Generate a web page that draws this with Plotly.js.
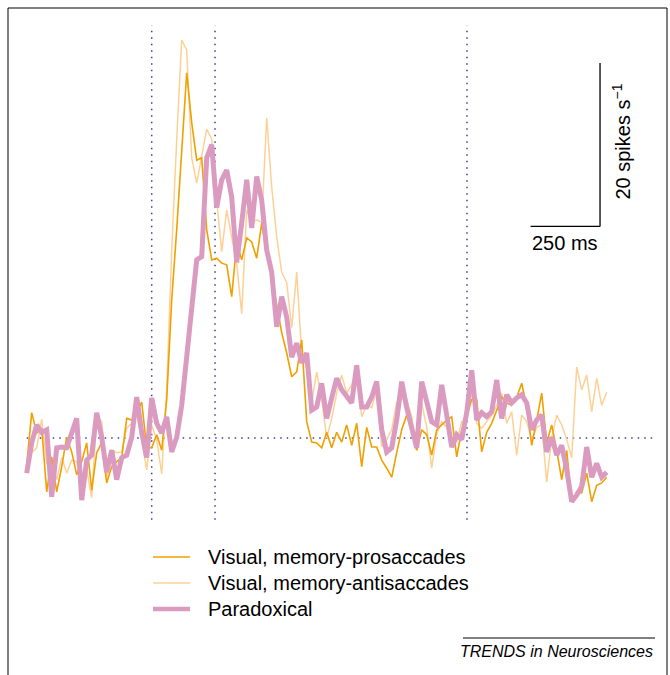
<!DOCTYPE html>
<html>
<head>
<meta charset="utf-8">
<script src="https://cdn.plot.ly/plotly-3.0.1.min.js"></script>
<style>html,body{margin:0;padding:0;background:#fff;}#chart{width:670px;height:675px;}</style>
</head>
<body>
<div id="chart"></div>
<script>
// Firing rate (spikes/s) per 18-ms bin, starting 450 ms before cue onset
const binStartMs = -450;
const binMs = 18;

const prosaccade = [6.7,13.1,10.6,11.2,3.4,7.7,3.4,6.5,10.1,8.3,
  5.5,7.1,9.4,3.6,8.2,9.4,4.5,6.5,7.1,7.6,
  12.4,12.2,13.1,14.4,8.8,8.8,10.4,8.5,14.7,26.9,
  35.5,45.3,54.7,48.6,44.0,44.3,35.5,31.8,32.0,31.4,
  31.2,27.3,33.9,31.8,34.5,34.0,32.0,36.3,32.6,29.7,
  26.5,22.9,20.4,17.5,18.1,22.0,12.0,9.5,9.4,8.8,
  10.7,8.8,10.7,9.5,11.6,9.1,11.8,6.5,11.3,8.9,
  8.9,7.3,6.3,5.2,8.2,11.0,12.8,11.0,8.5,11.0,
  10.4,7.9,11.0,11.6,12.2,12.6,7.7,11.0,12.6,14.7,
  14.7,8.3,10.7,11.8,13.4,15.0,14.3,14.0,15.0,16.7,
  13.8,9.1,12.2,15.5,9.4,11.6,8.5,4.9,8.5,2.2,
  3.4,3.3,5.7,2.2,4.2,4.5,5.2];

const antisaccade = [6.7,8.2,8.8,12.3,6.9,7.1,4.9,7.6,5.7,7.3,
  7.1,3.9,6.1,2.7,12.6,12.0,5.1,8.5,8.2,8.3,
  11.2,11.8,12.8,9.8,6.1,11.6,9.8,5.6,15.9,33.0,
  46.5,58.7,57.5,44.3,41.2,44.6,47.8,46.6,39.1,32.8,
  37.9,34.6,31.4,25.2,37.9,36.4,36.7,36.4,49.2,40.7,
  34.6,30.3,29.0,23.5,30.3,20.2,18.6,14.4,18.1,14.7,
  10.0,12.4,15.5,17.7,15.5,16.5,18.1,12.6,14.0,13.7,
  15.9,8.9,9.8,11.0,14.4,14.7,14.7,12.6,8.5,14.3,
  11.3,6.3,10.6,12.0,11.3,10.1,9.5,12.0,12.2,15.6,
  11.8,11.2,12.0,12.8,14.0,15.5,11.8,13.2,7.9,12.8,
  12.0,9.8,11.3,11.6,4.6,10.0,12.8,11.6,9.8,7.6,
  18.7,15.9,17.7,13.2,17.3,14.0,15.6];

const paradoxical = [5.7,9.4,11.6,10.7,11.0,2.8,8.8,8.9,8.8,10.6,
  12.4,2.4,7.3,7.9,13.1,10.1,5.8,8.5,4.9,7.6,
  7.9,10.1,15.0,10.7,7.6,14.9,11.8,10.6,12.6,8.3,
  10.1,14.0,19.5,25.7,31.8,32.2,44.3,45.9,38.2,41.6,
  42.8,39.5,31.5,36.3,41.6,35.7,42.0,39.1,33.0,30.3,
  23.6,27.3,24.8,19.9,21.6,19.2,20.4,13.4,13.8,16.7,
  12.4,14.9,17.3,15.9,15.0,14.3,18.9,13.8,13.8,15.0,
  16.9,11.0,8.3,8.8,12.2,16.9,13.7,11.0,8.8,16.9,
  14.3,12.0,11.6,16.5,12.8,8.9,10.4,9.8,13.1,18.3,
  12.2,13.1,12.6,13.2,17.1,12.4,15.3,14.3,14.9,15.3,
  14.3,11.0,12.2,12.8,8.3,10.1,7.9,9.1,6.1,2.2,
  3.0,4.1,8.9,5.2,6.9,5.2,5.8];

const timeMs = prosaccade.map((_, i) => binStartMs + i * binMs);

const seriesNames = ["Visual, memory-prosaccades", "Visual, memory-antisaccades", "Paradoxical"];
const seriesColors = ["#F0A000", "#FDD196", "#DB9BC0"];
const seriesWidths = [1.6, 1.5, 5];
const eventTimesMs = [0, 228, 1135];   // dotted vertical markers
const baselineRate = 10;               // dotted horizontal line
const scaleBarMs = 250;
const scaleBarRate = 20;

const FONT = "Liberation Sans, Arial, Helvetica, sans-serif";
const navy = "#3d3d9c";

const traces = [
  {x: timeMs, y: antisaccade, name: seriesNames[1], type: "scatter", mode: "lines",
   line: {color: seriesColors[1], width: seriesWidths[1]}, showlegend: false},
  {x: timeMs, y: prosaccade, name: seriesNames[0], type: "scatter", mode: "lines",
   line: {color: seriesColors[0], width: seriesWidths[0]}, showlegend: false},
  {x: timeMs, y: paradoxical, name: seriesNames[2], type: "scatter", mode: "lines",
   line: {color: seriesColors[2], width: seriesWidths[2]}, showlegend: false}
];

const shapes = [];
eventTimesMs.forEach(t => shapes.push({type: "line", xref: "x", yref: "y",
  x0: t, x1: t, y0: 0, y1: 60.5, line: {color: navy, width: 1.5, dash: "1.5px,5px"}, layer: "below"}));
shapes.push({type: "line", xref: "x", yref: "y", x0: timeMs[0], x1: 1812,
  y0: baselineRate, y1: baselineRate, line: {color: navy, width: 1.5, dash: "1.5px,5px"}, layer: "below"});

// scale bar
const sbX = 1614, sbY = 35.9;
shapes.push({type: "line", xref: "x", yref: "y", x0: sbX - scaleBarMs, x1: sbX, y0: sbY, y1: sbY, line: {color: "#000", width: 1.3}});
shapes.push({type: "line", xref: "x", yref: "y", x0: sbX, x1: sbX, y0: sbY, y1: sbY + scaleBarRate, line: {color: "#000", width: 1.3}});

// frame and footer rule
shapes.push({type: "rect", xref: "paper", yref: "paper", x0: 8/670, x1: 667/670, y0: -0.1, y1: 1 - 8/675,
  line: {color: "#000", width: 1}});
shapes.push({type: "line", xref: "paper", yref: "paper", x0: 463/670, x1: 655/670, y0: 1 - 638/675, y1: 1 - 638/675,
  line: {color: "#000", width: 1}});

const annotations = [
  {xref: "x", yref: "y", x: sbX - scaleBarMs/2, y: sbY, yanchor: "top", xanchor: "center", yshift: -4,
   text: scaleBarMs + " ms", showarrow: false, font: {family: FONT, size: 20, color: "#000"}},
  {xref: "x", yref: "y", x: 1690, y: 46.3, textangle: -90, xanchor: "center", yanchor: "middle",
   text: scaleBarRate + " spikes s<sup>\u22121</sup>", showarrow: false, font: {family: FONT, size: 20, color: "#000"}},
  {xref: "paper", yref: "paper", x: 655/670, y: 1 - 641/675, xanchor: "right", yanchor: "top",
   text: "<i>TRENDS in Neurosciences</i>", showarrow: false, font: {family: FONT, size: 16, color: "#000"}}
];

// legend (line samples + labels)
const legendRowsPx = [557, 583, 609];
seriesNames.forEach((name, i) => {
  const yp = 1 - legendRowsPx[i] / 675;
  shapes.push({type: "line", xref: "paper", yref: "paper", x0: 153/670, x1: 190/670, y0: yp, y1: yp,
    line: {color: seriesColors[i], width: i === 2 ? 4.5 : 1.6}});
  annotations.push({xref: "paper", yref: "paper", x: 206/670, y: yp, xanchor: "left", yanchor: "middle",
    text: name, showarrow: false, font: {family: FONT, size: 20, color: "#000"}});
});

const pxPerMs = 5 / 18;
const x0px = 151.7;
const pxPerRate = 8.17;
const y0px = 438;

const layout = {
  width: 670, height: 675,
  margin: {l: 0, r: 0, t: 0, b: 0},
  paper_bgcolor: "#fff", plot_bgcolor: "#fff",
  showlegend: false,
  xaxis: {visible: false, range: [(0 - x0px) / pxPerMs, (670 - x0px) / pxPerMs]},
  yaxis: {visible: false, range: [baselineRate - (675 - y0px) / pxPerRate, baselineRate + y0px / pxPerRate]},
  shapes: shapes,
  annotations: annotations
};

Plotly.newPlot("chart", traces, layout, {displayModeBar: false, staticPlot: true});
</script>
</body>
</html>
